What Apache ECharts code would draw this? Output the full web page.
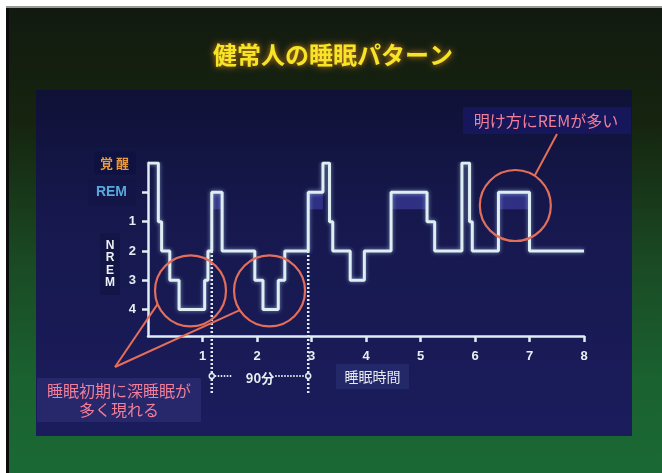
<!DOCTYPE html>
<html><head><meta charset="utf-8">
<script src="https://cdn.jsdelivr.net/npm/echarts@6/dist/echarts.min.js"></script>
<style>html,body{margin:0;padding:0;background:#fff}#c{width:662px;height:473px}</style>
</head><body><div id="c"></div>
<script>
// ---- data ----
const titleText = '健常人の睡眠パターン';
const stageLabels = ['覚醒', 'REM', '1', '2', '3', '4'];
const stageValues = [0, 1, 2, 3, 4, 5];
const xTickValues = [1, 2, 3, 4, 5, 6, 7, 8];
const changeTimes = [0, 0.19, 0.25, 0.40, 0.57, 1.04, 1.10, 1.17, 1.36, 1.96, 2.11, 2.39, 2.51, 2.94, 3.21, 3.33, 3.39, 3.71, 3.97, 4.46, 5.12, 5.26, 5.76, 5.90, 5.95, 6.43, 7.00];
const changeStages = [0, 2, 3, 4, 5, 4, 3, 1, 3, 4, 5, 4, 3, 1, 0, 2, 3, 4, 3, 1, 2, 3, 0, 2, 3, 1, 3];
const endTime = 8.0;
const xAxisName = '睡眠時間';
const cycleLabel = '90分';
const nremLabel = 'NREM';
const noteEarly = ['睡眠初期に深睡眠が', '多く現れる'];
const noteLate = '明け方にREMが多い';

// ---- build ----
const pts = [];
for (let i = 0; i < changeTimes.length; i++) {
  const t1 = i + 1 < changeTimes.length ? changeTimes[i + 1] : endTime;
  pts.push([changeTimes[i], changeStages[i]]);
  pts.push([t1, changeStages[i]]);
}
const remBands = [];
for (let i = 0; i < changeTimes.length; i++) {
  if (changeStages[i] === 1) {
    const t1 = i + 1 < changeTimes.length ? changeTimes[i + 1] : endTime;
    remBands.push([{ coord: [changeTimes[i], 1] }, { coord: [t1, 1.58] }]);
  }
}
const remOnsets = changeTimes.filter((t, i) => changeStages[i] === 1);

const lineCol = '#dfeef2';
const chart = echarts.init(document.getElementById('c'), null, { renderer: 'canvas' });
const rich = {
  s0: { color: '#ea9a3a', fontSize: 13, fontWeight: 'bold', fontFamily: 'Noto Sans CJK JP', backgroundColor: '#0f1240', padding: [5, 7, 5, 6] },
  s1: { color: '#55a9dc', fontSize: 14, fontWeight: 'bold', fontFamily: 'Liberation Sans', backgroundColor: '#121545', padding: [6, 9, 6, 7] },
  n: { color: '#e8eef2', fontSize: 13, fontWeight: 'bold', fontFamily: 'Liberation Sans' }
};
const option = {
  animation: false,
  backgroundColor: 'transparent',
  grid: { left: 148, right: 78, top: 163, bottom: 137, outerBoundsMode: 'none' },
  xAxis: {
    type: 'value', min: 0, max: 8, interval: 1, position: 'bottom',
    axisLine: { show: true, onZero: false, lineStyle: { color: lineCol, width: 2.5 } },
    axisTick: { show: true, length: 6, customValues: xTickValues, lineStyle: { color: lineCol, width: 2.5 } },
    axisLabel: { customValues: xTickValues, margin: 14, color: '#e8eef2', fontSize: 13, fontWeight: 'bold', fontFamily: 'Liberation Sans Narrow, Liberation Sans' },
    splitLine: { show: false }
  },
  yAxis: {
    type: 'value', min: 0, max: 5.9, interval: 1, inverse: true, position: 'left',
    axisLine: { show: true, onZero: false, lineStyle: { color: lineCol, width: 2.5 } },
    axisTick: { show: true, length: 6, customValues: [1, 2, 3, 4, 5], lineStyle: { color: lineCol, width: 2.5 } },
    axisLabel: {
      customValues: stageValues, margin: 12,
      formatter: v => {
        const i = stageValues.indexOf(v);
        if (i < 0) return '';
        const lab = i === 0 ? stageLabels[0].split('').join(' ') : stageLabels[i];
        return '{' + (i === 0 ? 's0' : i === 1 ? 's1' : 'n') + '|' + lab + '}';
      },
      rich: rich
    },
    splitLine: { show: false }
  },
  series: [{
    type: 'line', data: pts, showSymbol: false, symbol: 'none', z: 5,
    lineStyle: { color: lineCol, width: 3, shadowBlur: 4, shadowColor: 'rgba(190,225,255,0.6)' },
    markArea: { silent: true, itemStyle: { color: 'rgba(80,80,200,0.45)' }, data: remBands }
  }]
};
chart.setOption(option);

const P = (t, v) => chart.convertToPixel({ gridIndex: 0 }, [t, v]);
const red = '#e36e5a';
const g = [];
// background slide
g.push({ type: 'rect', z: -20, shape: { x: 6, y: 6, width: 656, height: 467 }, style: { fill: new echarts.graphic.LinearGradient(0, 0, 0, 1, [
  { offset: 0, color: '#121a10' }, { offset: 0.25, color: '#16240f' }, { offset: 0.55, color: '#1a4a24' }, { offset: 0.8, color: '#1a6230' }, { offset: 1, color: '#1a6934' }]) } });
g.push({ type: 'rect', z: -19, shape: { x: 6, y: 6, width: 656, height: 2 }, style: { fill: '#9a9a9a' } });
g.push({ type: 'rect', z: -19, shape: { x: 6, y: 8, width: 3, height: 465 }, style: { fill: '#0b0b0b' } });
// panel
g.push({ type: 'rect', z: -18, shape: { x: 36, y: 90, width: 596, height: 346 }, style: { fill: new echarts.graphic.LinearGradient(0, 0, 0, 1, [
  { offset: 0, color: '#0f1136' }, { offset: 0.35, color: '#16184d' }, { offset: 1, color: '#1b1c5c' }]) } });
// title
g.push({ type: 'text', z: 50, x: 333, y: 55, style: { text: titleText, align: 'center', verticalAlign: 'middle', fill: '#f4e626', font: 'bold 24px "Noto Sans CJK JP"', textShadowColor: 'rgba(235,140,20,0.95)', textShadowBlur: 6 } });
// NREM vertical label
g.push({ type: 'rect', z: 10, shape: { x: 100, y: 233, width: 20, height: 62 }, style: { fill: '#121545' } });
g.push({ type: 'text', z: 11, x: 110, y: 264, style: { text: nremLabel.split('').join('\n'), align: 'center', verticalAlign: 'middle', fill: '#eef2f4', font: 'bold 12px "Liberation Sans"', lineHeight: 12.5 } });
// circles
const r = 35.5;
const cA = P(0.78, 4.36), cB = P(2.23, 4.36), cC = P(6.74, 1.45);
[cA, cB, cC].forEach(c => g.push({ type: 'circle', z: 30, shape: { cx: c[0], cy: c[1], r: r }, style: { fill: 'none', stroke: red, lineWidth: 2.2 } }));
const onC = (c, deg) => [c[0] + r * Math.cos(deg * Math.PI / 180), c[1] + r * Math.sin(deg * Math.PI / 180)];
const meet = [115, 367];
const a1 = onC(cA, 158), a2 = onC(cB, 147), a3 = onC(cC, -57);
g.push({ type: 'line', z: 30, shape: { x1: a1[0], y1: a1[1], x2: meet[0], y2: meet[1] }, style: { stroke: red, lineWidth: 2 } });
g.push({ type: 'line', z: 30, shape: { x1: a2[0], y1: a2[1], x2: meet[0], y2: meet[1] }, style: { stroke: red, lineWidth: 2 } });
g.push({ type: 'line', z: 30, shape: { x1: a3[0], y1: a3[1], x2: 557, y2: 134 }, style: { stroke: red, lineWidth: 2 } });
// cycle dotted lines
const d1 = P(remOnsets[0], 3), d2 = P(remOnsets[1], 3);
const dot = { stroke: '#dfe8ef', lineWidth: 2.5, lineDash: [2, 2] };
[d1, d2].forEach(d => g.push({ type: 'line', z: 20, shape: { x1: d[0], y1: d[1], x2: d[0], y2: 395 }, style: dot }));
g.push({ type: 'line', z: 20, shape: { x1: d1[0], y1: 376, x2: d1[0] + 20, y2: 376 }, style: { stroke: '#dfe8ef', lineWidth: 2, lineDash: [1.5, 1.5] } });
g.push({ type: 'line', z: 20, shape: { x1: d2[0] - 33, y1: 376, x2: d2[0], y2: 376 }, style: { stroke: '#dfe8ef', lineWidth: 2, lineDash: [1.5, 1.5] } });
[d1, d2].forEach(d => g.push({ type: 'circle', z: 21, shape: { cx: d[0], cy: 376, r: 2.5 }, style: { fill: '#1a1b55', stroke: '#dfe8ef', lineWidth: 1.5 } }));
g.push({ type: 'text', z: 21, x: (d1[0] + d2[0]) / 2, y: 378, style: { text: cycleLabel, align: 'center', verticalAlign: 'middle', fill: '#e8eef2', font: 'bold 13px "Noto Sans CJK JP"' } });
// x axis name box
g.push({ type: 'rect', z: 20, shape: { x: 336, y: 364, width: 73, height: 25 }, style: { fill: '#232869' } });
g.push({ type: 'text', z: 21, x: 372.5, y: 377, style: { text: xAxisName, align: 'center', verticalAlign: 'middle', fill: '#e8eaf2', font: '14px "Noto Sans CJK JP"' } });
// notes
g.push({ type: 'rect', z: 20, shape: { x: 37, y: 378, width: 164, height: 44 }, style: { fill: '#27276b' } });
g.push({ type: 'text', z: 21, x: 119, y: 391, style: { text: noteEarly[0], align: 'center', verticalAlign: 'middle', fill: '#f27e9a', font: '16px "Noto Sans CJK JP"' } });
g.push({ type: 'text', z: 21, x: 119, y: 410, style: { text: noteEarly[1], align: 'center', verticalAlign: 'middle', fill: '#f27e9a', font: '16px "Noto Sans CJK JP"' } });
g.push({ type: 'rect', z: 20, shape: { x: 463, y: 107, width: 168, height: 27 }, style: { fill: '#15175a' } });
g.push({ type: 'text', z: 21, x: 546, y: 120.5, style: { text: noteLate, align: 'center', verticalAlign: 'middle', fill: '#f27e9a', font: '16px "Noto Sans CJK JP"' } });

chart.setOption({ graphic: g });
</script>
</body></html>
